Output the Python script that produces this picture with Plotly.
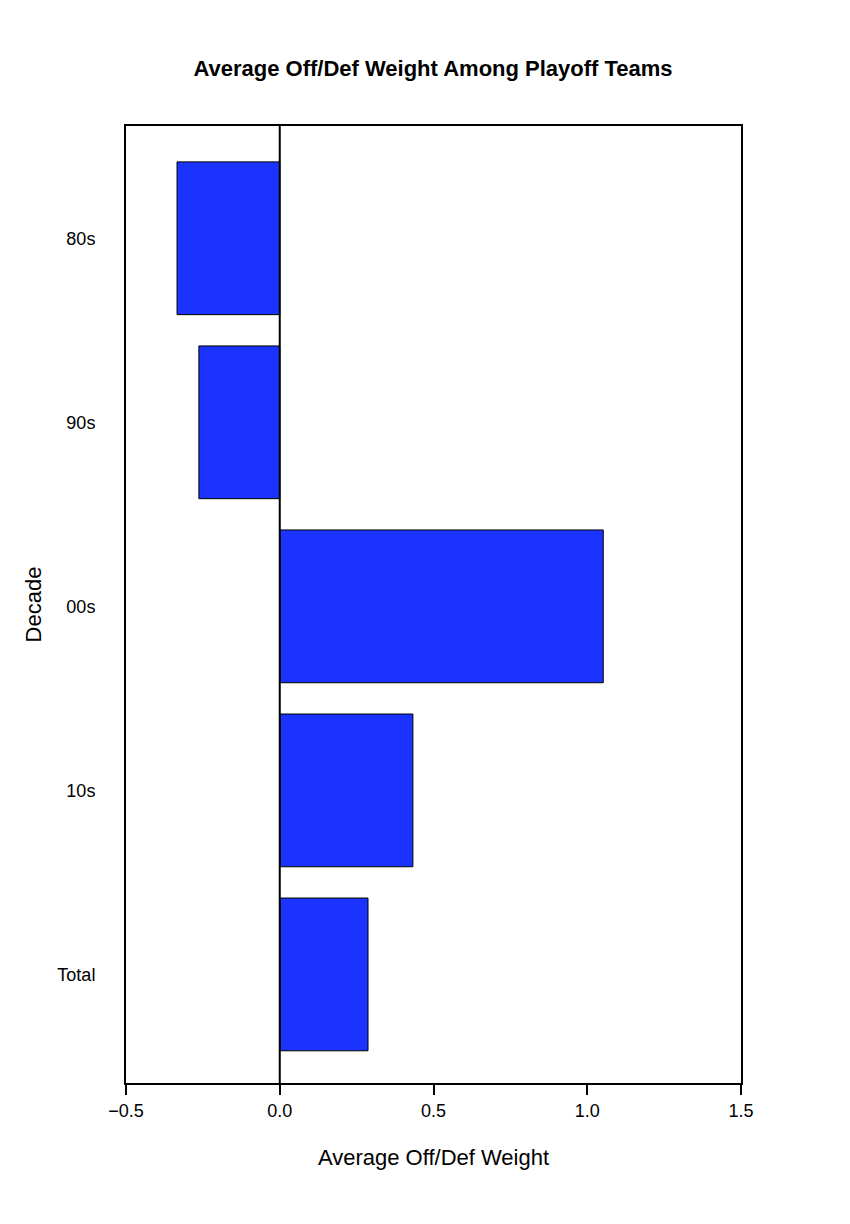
import plotly.graph_objects as go

decades = ["80s", "90s", "00s", "10s", "Total"]
weights = [-0.334, -0.263, 1.052, 0.433, 0.287]
positions = [0, 1, 2, 3, 4]

fig = go.Figure(go.Bar(
    x=weights, y=positions, orientation="h", width=0.83,
    marker=dict(color="#1a33ff", line=dict(color="black", width=1)),
))

# zero line
fig.add_shape(type="line", x0=0, x1=0, y0=0, y1=1, yref="paper",
              line=dict(color="black", width=2))

fig.update_layout(
    width=850, height=1224,
    margin=dict(l=118, r=117, t=118, b=149),
    plot_bgcolor="white", paper_bgcolor="white",
    font=dict(family="Liberation Sans, Arial", size=18, color="black"),
    title=dict(text="<b>Average Off/Def Weight Among Playoff Teams</b>",
               x=0.5, xanchor="center", y=1 - 60 / 1224, yanchor="middle",
               font=dict(size=22)),
    showlegend=False,
    xaxis=dict(range=[-0.5, 1.5], tickvals=[-0.5, 0, 0.5, 1.0, 1.5],
               ticktext=["\u22120.5", "0.0", "0.5", "1.0", "1.5"],
               ticks="outside", ticklen=10, tickwidth=2, tickcolor="black",
               showgrid=False, zeroline=False, showline=True, linecolor="black",
               linewidth=2, mirror=True,
               title=dict(text="Average Off/Def Weight", standoff=30)),
    yaxis=dict(range=[4.59, -0.61], tickvals=positions, ticktext=decades,
               showgrid=False, zeroline=False, showline=True, linecolor="black",
               linewidth=2, mirror=True, ticks="", ticklabelstandoff=25,
               title=dict(text="Decade", standoff=10)),
)

fig.write_html("out.html")
